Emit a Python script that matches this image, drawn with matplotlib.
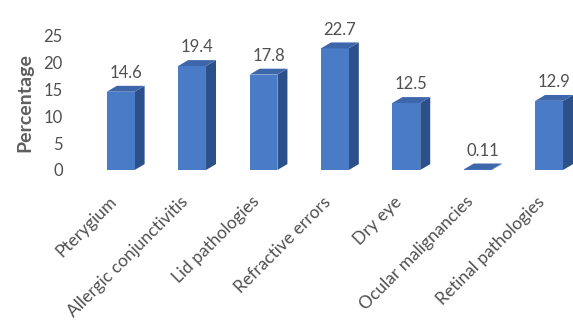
import matplotlib.pyplot as plt
from matplotlib.patches import Polygon
from matplotlib.transforms import ScaledTranslation

categories = ["Pterygium", "Allergic conjunctivitis", "Lid pathologies",
              "Refractive errors", "Dry eye", "Ocular malignancies",
              "Retinal pathologies"]
values = [14.6, 19.4, 17.8, 22.7, 12.5, 0.11, 12.9]
labels = ["14.6", "19.4", "17.8", "22.7", "12.5", "0.11", "12.9"]
yticks = [0, 5, 10, 15, 20, 25]

plt.rcParams['font.family'] = ['Lato', 'DejaVu Sans']

fig = plt.figure(figsize=(5.73, 3.22), dpi=100)
ax = fig.add_axes([85 / 573, 152 / 322, 488 / 573, 134 / 322])

w = 0.39      # front face width
dx = 0.14     # depth offset to the right (data units)
dy = 1.1      # depth offset upwards (data units)
front = "#4a7bc6"
side = "#2c5089"
top = "#3d66ab"
txt = "#505050"

x = list(range(len(values)))
ax.bar(x, values, width=w, color=front, edgecolor="none", zorder=3)
for xi, v, lab in zip(x, values, labels):
    xl, xr = xi - w / 2, xi + w / 2
    ax.add_patch(Polygon([(xr, 0), (xr + dx, dy), (xr + dx, v + dy), (xr, v)],
                         closed=True, color=side, lw=0, zorder=2))
    ax.add_patch(Polygon([(xl, v), (xr, v), (xr + dx, v + dy), (xl + dx, v + dy)],
                         closed=True, color=top, lw=0, zorder=4))
    ax.text(xi + dx / 2, v + dy + 0.9, lab, ha="center", va="bottom",
            fontsize=12, color=txt)

# rotated category labels, anchored at their right end below each bar
shift = ScaledTranslation(-9 / 72, -17 / 72, fig.dpi_scale_trans)
for xi, cat in zip(x, categories):
    ax.text(xi, 0, cat, transform=ax.get_xaxis_transform() + shift,
            rotation=45, ha="right", va="top", rotation_mode="anchor",
            fontsize=12.5, color=txt)

ax.set_xlim(-0.5, -0.5 + 488 / 71.4)
ax.set_ylim(0, 25)
ax.set_yticks(yticks)
ax.set_yticklabels([str(t) for t in yticks], fontsize=12, color=txt)
ax.set_xticks([])
ax.tick_params(axis="y", length=0, pad=16)
for s in ax.spines.values():
    s.set_visible(False)
ax.set_ylabel("Percentage", fontsize=14, fontweight="bold", color="#5f5f5f",
              labelpad=7)

fig.savefig("out.png", dpi=100)
